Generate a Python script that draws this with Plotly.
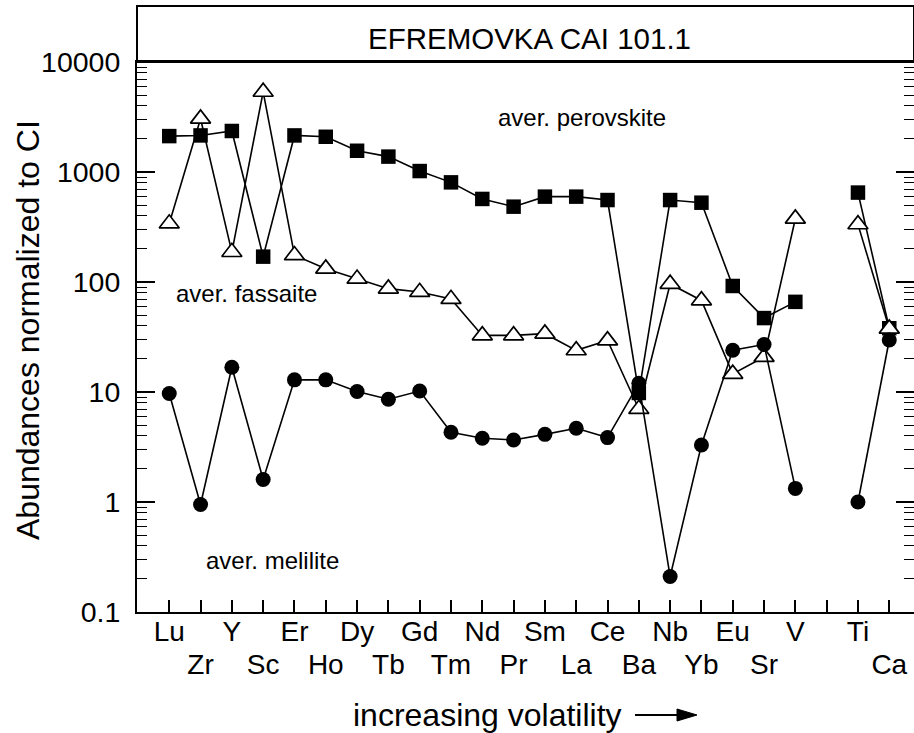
import plotly.graph_objects as go

# ---- data -------------------------------------------------------------
# element slots along the x axis (None = empty slot between V and Ti)
slots = ["Lu", "Zr", "Y", "Sc", "Er", "Ho", "Dy", "Tb", "Gd", "Tm", "Nd", "Pr",
         "Sm", "La", "Ce", "Ba", "Nb", "Yb", "Eu", "Sr", "V", None, "Ti", "Ca"]

perovskite = [2120, 2150, 2360, 170, 2150, 2090, 1560, 1380, 1020, 805, 569, 484,
              597, 597, 556, 9.8, 556, 526, 92, 47, 66, None, 650, 38]
fassaite = [340, 3050, 187, 5350, 175, 132, 107, 87, 81, 70, 32.7, 32.7,
            33.9, 23.9, 29.4, 7.0, 96, 68, 14.6, 20.8, 376, None, 334, 37.6]
melilite = [9.7, 0.95, 16.8, 1.6, 12.9, 12.9, 10.1, 8.6, 10.2, 4.3, 3.8, 3.66,
            4.12, 4.68, 3.85, 12.0, 0.21, 3.3, 24, 27, 1.33, None, 1.0, 29.7]

y_ticks = [0.1, 1, 10, 100, 1000, 10000]
y_ticktext = ["0.1", "1", "10", "100", "1000", "10000"]

title_text = "EFREMOVKA CAI 101.1"
y_title = "Abundances normalized to CI"
x_title = "increasing volatility"

# ---- figure -----------------------------------------------------------
FONT = "Liberation Sans, Arial, Helvetica, sans-serif"
W, H = 914, 733
L, R, T, B = 137, 0, 62, 121
PW, PH = W - L - R, H - T - B

def px(x):
    return (x - L) / PW

def py(y):
    return (H - B - y) / PH

positions = list(range(len(slots)))

fig = go.Figure()

fig.add_trace(go.Scatter(
    x=positions, y=perovskite, mode="lines+markers", name="aver. perovskite",
    line=dict(color="black", width=1.6),
    marker=dict(symbol="square", size=14.5, color="black"),
    connectgaps=False, showlegend=False))

fig.add_trace(go.Scatter(
    x=positions, y=fassaite, mode="lines+markers", name="aver. fassaite",
    line=dict(color="black", width=1.6),
    marker=dict(symbol="triangle-up", size=17.5, color="white",
                line=dict(color="black", width=1.7)),
    connectgaps=False, showlegend=False))

fig.add_trace(go.Scatter(
    x=positions, y=melilite, mode="lines+markers", name="aver. melilite",
    line=dict(color="black", width=1.6),
    marker=dict(symbol="circle", size=15, color="black"),
    connectgaps=False, showlegend=False))

row2_vals = [i for i, s in enumerate(slots) if s is not None and i % 2 == 1]

xrange_ = [-1.03, 23.79]

fig.update_layout(
    width=W, height=H,
    margin=dict(l=L, r=R, t=T, b=B, autoexpand=False),
    paper_bgcolor="white", plot_bgcolor="white",
    font=dict(family=FONT, color="black"),
    title=dict(text=title_text, font=dict(size=29.5, family=FONT, color="black"),
               x=529.5 / W, xanchor="center", xref="container",
               y=1 - 39 / H, yanchor="middle"),
    xaxis=dict(
        range=xrange_, showgrid=False, zeroline=False,
        showline=True, linecolor="black", linewidth=2, mirror=True,
        ticks="inside", ticklen=12, tickwidth=1.5, tickcolor="black",
        tickvals=positions,
        ticktext=[slots[i] if (slots[i] is not None and i % 2 == 0) else "" for i in positions],
        tickfont=dict(size=28, family=FONT, color="black"),
        ticklabelstandoff=-7,
    ),
    xaxis2=dict(
        range=xrange_, overlaying="x", anchor="y", side="bottom",
        showgrid=False, zeroline=False, showline=False, ticks="",
        tickvals=row2_vals, ticktext=[slots[i] for i in row2_vals],
        tickfont=dict(size=28, family=FONT, color="black"),
        ticklabelstandoff=33,
    ),
    yaxis=dict(
        type="log", range=[-1, 4], showgrid=False, zeroline=False,
        showline=True, linecolor="black", linewidth=2, mirror="ticks",
        ticks="inside", ticklen=18, tickwidth=1.5, tickcolor="black",
        tickvals=y_ticks, ticktext=y_ticktext,
        tickfont=dict(size=28.5, family=FONT, color="black"),
        ticklabelstandoff=9,
        minor=dict(ticks="inside", ticklen=10, tickwidth=1.3, tickcolor="black",
                   tickvals=[m * 10 ** e for e in range(-1, 4) for m in range(2, 10)],
                   showgrid=False),
    ),
)

# invisible helper trace so the second x axis is laid out
fig.add_trace(go.Scatter(x=[None], y=[None], xaxis="x2", yaxis="y",
                         showlegend=False, hoverinfo="skip"))

# title box above the plot
fig.add_shape(type="rect", xref="paper", yref="paper",
              x0=0, x1=1, y0=1, y1=py(6),
              line=dict(color="black", width=2), fillcolor="rgba(0,0,0,0)")

# series labels
for text, xv, yv in [("aver. perovskite", 13.19, 3.5),
                     ("aver. fassaite", 2.47, 1.891),
                     ("aver. melilite", 3.30, -0.536)]:
    fig.add_annotation(text=text, x=xv, y=yv, xref="x", yref="y",
                       showarrow=False, xanchor="center", yanchor="middle",
                       font=dict(size=24, family=FONT, color="black"))

# y axis title (rotated)
fig.add_annotation(text=y_title, x=px(28), y=py(330), xref="paper", yref="paper",
                   showarrow=False, textangle=-90, xanchor="center", yanchor="middle",
                   font=dict(size=32, family=FONT, color="black"))

# x axis title with arrow
fig.add_annotation(text=x_title, x=px(487), y=py(715), xref="paper", yref="paper",
                   showarrow=False, xanchor="center", yanchor="middle",
                   font=dict(size=32, family=FONT, color="black"))
fig.add_shape(type="line", xref="paper", yref="paper",
              x0=px(635), x1=px(680), y0=py(715), y1=py(715),
              line=dict(color="black", width=2))
fig.add_shape(type="path", xref="paper", yref="paper",
              path=f"M {px(677)},{py(709)} L {px(697)},{py(715)} L {px(677)},{py(721)} Z",
              fillcolor="black", line=dict(color="black", width=1))

fig.write_html("out.html",
               config={"displayModeBar": False},
               post_script="document.body.style.margin='0';"
                           "document.body.style.overflow='hidden';")
